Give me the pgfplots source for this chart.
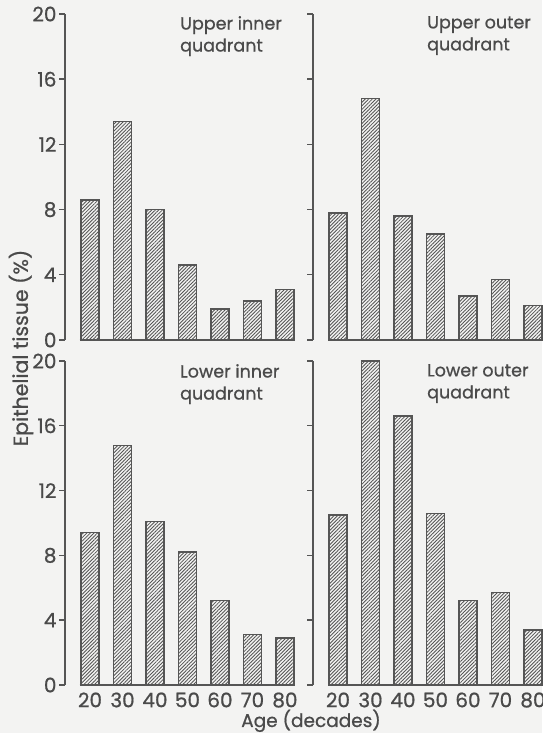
\documentclass[border=0pt]{standalone}
\usepackage{fontspec}
\setmainfont{Poppins}[FakeBold=0.8]
\usepackage{pgfplots}
\usepackage{pgfplotstable}
\pgfplotsset{compat=1.18}
\usetikzlibrary{patterns.meta}
\definecolor{ink}{HTML}{555555}
\definecolor{txt}{HTML}{4A4A4A}
\definecolor{bg}{HTML}{F3F3F2}

\pgfplotstableread{
x ui uo li lo
0 8.6 7.8 9.4 10.5
1 13.4 14.8 14.8 20.0
2 8.0 7.6 10.1 16.6
3 4.6 6.5 8.2 10.6
4 1.9 2.7 5.2 5.2
5 2.4 3.7 3.1 5.7
6 3.1 2.1 2.9 3.4
}\data

\pgfplotsset{
  panel/.style={
    scale only axis, width=230pt, height=#1,
    xmin=-0.77, xmax=6.31, ymin=0, ymax=20,
    axis y line=left, axis x line*=bottom,
    x axis line style={draw=none},
    y axis line style={-, draw=ink, line width=1.4pt},
    xtick={0,...,6}, xtick style={draw=none},
    xticklabels={},
    ytick={0,4,8,12,16,20},
    ytick style={draw=ink, line width=1.4pt},
    tick align=outside, major tick length=6pt,
    tick label style={font=\fontsize{20}{22}\selectfont, text=txt},
    yticklabel style={xshift=1pt},
    xticklabel style={yshift=2pt},
    /pgf/number format/assume math mode=true,
    clip=false,
  },
  hbar/.style={ybar, bar width=18pt, draw=ink, line width=1.4pt,
    pattern={Lines[angle=45, distance=2.5pt, line width=0.85pt]}, pattern color=ink},
  base/.style={draw=ink, line width=1.4pt, mark=none, sharp plot},
}

\begin{document}
\begin{tikzpicture}
\fill[bg] (0pt,0pt) rectangle (542pt,733pt);
\useasboundingbox (0pt,0pt) rectangle (542pt,733pt);

% upper inner
\begin{axis}[panel=326pt, at={(65pt,393pt)}, anchor=south west]
\addplot[hbar] table[x=x, y=ui] {\data};
\addplot[base] coordinates {(-0.32,0) (6.2,0)};
\end{axis}

% upper outer
\begin{axis}[panel=326pt, at={(313pt,393pt)}, anchor=south west, yticklabels={}]
\addplot[hbar] table[x=x, y=uo] {\data};
\addplot[base] coordinates {(-0.28,0) (6.31,0)};
\end{axis}

% lower inner
\begin{axis}[panel=324pt, at={(65pt,48pt)}, anchor=south west,
  xticklabels={20,30,40,50,60,70,80}]
\addplot[hbar] table[x=x, y=li] {\data};
\addplot[base] coordinates {(-0.32,0) (6.2,0)};
\end{axis}

% lower outer
\begin{axis}[panel=324pt, at={(313pt,48pt)}, anchor=south west, yticklabels={},
  xticklabels={20,30,40,50,60,70,80}]
\addplot[hbar] table[x=x, y=lo] {\data};
\addplot[base] coordinates {(-0.28,0) (6.31,0)};
\end{axis}

\begin{scope}[every node/.style={text=txt, font=\fontsize{17.5}{22}\selectfont, align=left, inner sep=0pt}]
\node[anchor=north west] at (180pt,717pt) {Upper inner\\quadrant};
\node[anchor=north west] at (427pt,717pt) {Upper outer\\quadrant};
\node[anchor=north west] at (180pt,369pt) {Lower inner\\quadrant};
\node[anchor=north west] at (427pt,369pt) {Lower outer\\quadrant};
\node[rotate=90, font=\fontsize{20.5}{24}\selectfont] at (21pt,385pt) {Epithelial tissue (\%)};
\node[font=\fontsize{18.5}{22}\selectfont, anchor=base] at (311pt,6pt) {Age (decades)};
\end{scope}
\end{tikzpicture}
\end{document}
